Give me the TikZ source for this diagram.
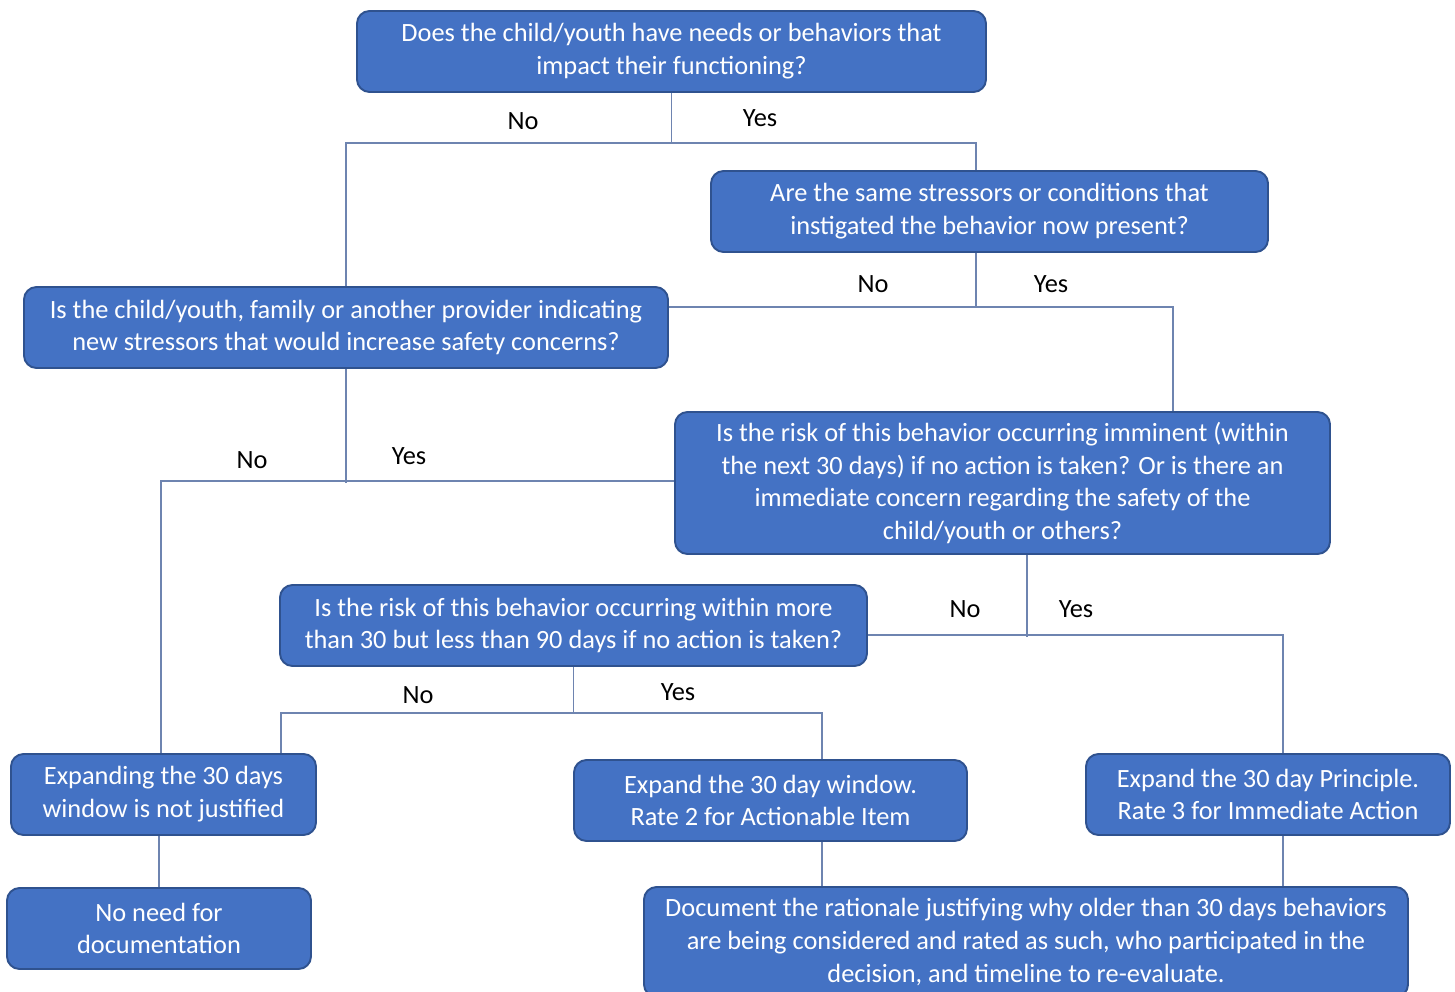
\documentclass[tikz,border=0pt]{standalone}
\usepackage{fontspec}
\setmainfont{Carlito}
\definecolor{boxfill}{RGB}{68,114,196}
\definecolor{boxline}{RGB}{47,82,143}
\definecolor{linkcol}{RGB}{110,132,176}
\begin{document}
\begin{tikzpicture}[
    qbox/.style={draw=boxline, line width=1.1pt, fill=boxfill, rounded corners=0.25cm,
        text=white, align=center, inner sep=0pt, font=\fontsize{15}{18.7}\selectfont},
    link/.style={draw=linkcol, line width=0.6pt},
    lbl/.style={font=\fontsize{15}{18.7}\selectfont, inner sep=0pt}]
    \useasboundingbox (0,0) rectangle (29.1,-19.84);
    \node[qbox, minimum width=12.58cm, minimum height=1.62cm] (needs) at (13.43,-1.03)
        {Does the child/youth have needs or behaviors that\\impact their functioning?};
    \node[qbox, minimum width=11.14cm, minimum height=1.62cm] (same) at (19.79,-4.23)
        {Are the same stressors or conditions that\\instigated the behavior now present?};
    \node[qbox, minimum width=12.88cm, minimum height=1.62cm] (newstress) at (6.92,-6.55)
        {Is the child/youth, family or another provider indicating\\new stressors that would increase safety concerns?};
    \node[qbox, minimum width=13.10cm, minimum height=2.84cm] (imminent) at (20.05,-9.66)
        {Is the risk of this behavior occurring imminent (within\\the next 30 days) if no action is taken? Or is there an\\immediate concern regarding the safety of the\\child/youth or others?};
    \node[qbox, minimum width=11.74cm, minimum height=1.62cm] (within) at (11.47,-12.51)
        {Is the risk of this behavior occurring within more\\than 30 but less than 90 days if no action is taken?};
    \node[qbox, minimum width=6.10cm, minimum height=1.62cm] (notjust) at (3.27,-15.89)
        {Expanding the 30 days\\window is not justified};
    \node[qbox, minimum width=7.86cm, minimum height=1.62cm] (rate2) at (15.41,-16.01)
        {Expand the 30 day window.\\Rate 2 for Actionable Item};
    \node[qbox, minimum width=7.28cm, minimum height=1.62cm] (rate3) at (25.36,-15.89)
        {Expand the 30 day Principle.\\Rate 3 for Immediate Action};
    \node[qbox, minimum width=6.08cm, minimum height=1.62cm] (nodoc) at (3.18,-18.57)
        {No need for\\documentation};
    \node[qbox, minimum width=15.28cm, minimum height=2.2cm] (document) at (20.52,-18.84)
        {Document the rationale justifying why older than 30 days behaviors\\are being considered and rated as such, who participated in the\\decision, and timeline to re-evaluate.};

    \coordinate (A) at (19.52,-2.86);
    \coordinate (B) at (19.52,-6.14);
    \coordinate (C) at (23.46,-6.14);
    \coordinate (D) at (3.22,-9.62);
    \coordinate (E) at (20.54,-12.70);
    \coordinate (F) at (25.66,-12.70);
    \coordinate (G) at (5.62,-14.26);
    \coordinate (H) at (16.44,-14.26);

    \draw[link] (needs.south) -- (needs.south |- A);
    \draw[link] (newstress.north) |- (A) -- (A |- same.north);
    \node[lbl] at (10.46,-2.42) {No};
    \node[lbl] at (15.20,-2.36) {Yes};

    \draw[link] (B |- same.south) -- (B);
    \draw[link] (newstress.east |- B) -- (C) -- (C |- imminent.north);
    \node[lbl] at (17.46,-5.68) {No};
    \node[lbl] at (21.02,-5.68) {Yes};

    \draw[link] (newstress.south) -- ([yshift=-0.04cm]newstress.south |- D);
    \draw[link] (imminent.west |- D) -- (D) -- (D |- notjust.north);
    \node[lbl] at (5.04,-9.20) {No};
    \node[lbl] at (8.18,-9.12) {Yes};

    \draw[link] (E |- imminent.south) -- ([yshift=-0.04cm]E);
    \draw[link] (within.east |- E) -- (F) -- (F |- rate3.north);
    \node[lbl] at (19.30,-12.18) {No};
    \node[lbl] at (21.52,-12.18) {Yes};

    \draw[link] (G -| within.south) -- (within.south);
    \draw[link] (G |- notjust.north) -- (G) -- (H) -- (H |- rate2.north);
    \node[lbl] at (8.36,-13.90) {No};
    \node[lbl] at (13.56,-13.84) {Yes};

    \draw[link] (nodoc.north |- notjust.south) -- (nodoc.north);
    \draw[link] (H |- rate2.south) -- (H |- document.north);
    \draw[link] (F |- rate3.south) -- (F |- document.north);
\end{tikzpicture}
\end{document}
